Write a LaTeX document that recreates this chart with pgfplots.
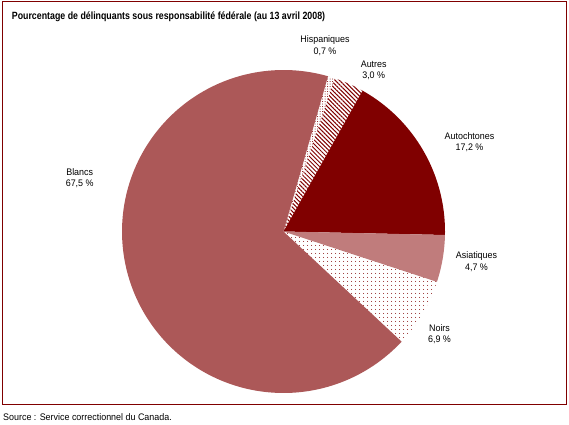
\documentclass[border=0pt]{standalone}
\usepackage{pgfplots}
\pgfplotsset{compat=1.18}
\usepackage{fontspec}
\setmainfont{Liberation Sans}
\newfontfamily\lblfont[FakeStretch=0.94]{Liberation Sans}
\newfontfamily\ttlfont[FakeStretch=0.84]{Liberation Sans}
\usetikzlibrary{patterns.meta}
\definecolor{dred}{RGB}{128,0,0}
\definecolor{blancs}{RGB}{172,88,88}
\definecolor{asiat}{RGB}{192,124,124}
% Percentages (clockwise from 74 deg): Hispaniques 0.7, Autres 3.0, Autochtones 17.2,
% Asiatiques 4.7, Noirs 6.9, Blancs 67.5
\begin{document}
\begin{tikzpicture}
\begin{axis}[scale only axis, width=569pt, height=424pt,
  xmin=0, xmax=569, ymin=0, ymax=424, hide axis, clip=false]
\path (0,0) rectangle (569,424);
\draw[dred, line width=1pt] (2.5,422.5) rectangle (566.5,19.5);
% Hispaniques 0.7
\addplot[draw=none, pattern={Dots[distance=2.5pt, radius=0.5pt]}, pattern color=dred,
  domain=74-3.6*0.7:74, samples=10, variable=\t]
  ({283.5+161.5*cos(\t)},{192.5+161.5*sin(\t)}) -- (283.5,192.5) -- cycle;
% Autres 3.0
\addplot[draw=none, pattern={Lines[angle=-45, distance=3pt, line width=1.0pt]}, pattern color=dred,
  domain=74-3.6*3.7:74-3.6*0.7, samples=20, variable=\t]
  ({283.5+161.5*cos(\t)},{192.5+161.5*sin(\t)}) -- (283.5,192.5) -- cycle;
% Autochtones 17.2
\addplot[draw=none, fill=dred,
  domain=74-3.6*20.9:74-3.6*3.7, samples=60, variable=\t]
  ({283.5+161.5*cos(\t)},{192.5+161.5*sin(\t)}) -- (283.5,192.5) -- cycle;
% Asiatiques 4.7
\addplot[draw=none, fill=asiat,
  domain=74-3.6*25.6:74-3.6*20.9, samples=20, variable=\t]
  ({283.5+161.5*cos(\t)},{192.5+161.5*sin(\t)}) -- (283.5,192.5) -- cycle;
% Noirs 6.9
\addplot[draw=none, pattern={Dots[distance=4pt, radius=0.6pt]}, pattern color=dred,
  domain=74-3.6*32.5:74-3.6*25.6, samples=30, variable=\t]
  ({283.5+161.5*cos(\t)},{192.5+161.5*sin(\t)}) -- (283.5,192.5) -- cycle;
% Blancs 67.5
\addplot[draw=none, fill=blancs,
  domain=74-3.6*100:74-3.6*32.5, samples=150, variable=\t]
  ({283.5+161.5*cos(\t)},{192.5+161.5*sin(\t)}) -- (283.5,192.5) -- cycle;
% Title and source
\node[anchor=base west, inner sep=0pt, font=\ttlfont\bfseries\fontsize{10.5}{12}\selectfont]
  at (11.7,404) {Pourcentage de délinquants sous responsabilité fédérale (au 13 avril 2008)};
\node[anchor=base west, inner sep=0pt, font=\lblfont\fontsize{9.5}{11}\selectfont]
  at (3,3.5) {Source : Service correctionnel du Canada.};
% Labels
\tikzset{lbl/.style={anchor=base, inner sep=0pt, font=\lblfont\fontsize{9.5}{11}\selectfont}}
\node[lbl] at (325,381.3) {Hispaniques};
\node[lbl] at (325,369) {0,7 \%};
\node[lbl] at (373.7,356.7) {Autres};
\node[lbl] at (373.7,345.7) {3,0 \%};
\node[lbl] at (469.5,284.7) {Autochtones};
\node[lbl] at (469.5,273.3) {17,2 \%};
\node[lbl] at (476.5,165.3) {Asiatiques};
\node[lbl] at (476.5,153.3) {4,7 \%};
\node[lbl] at (439.5,92.3) {Noirs};
\node[lbl] at (439.5,81.7) {6,9 \%};
\node[lbl] at (79.7,248.7) {Blancs};
\node[lbl] at (79.7,237.3) {67,5 \%};
\end{axis}
\end{tikzpicture}
\end{document}
